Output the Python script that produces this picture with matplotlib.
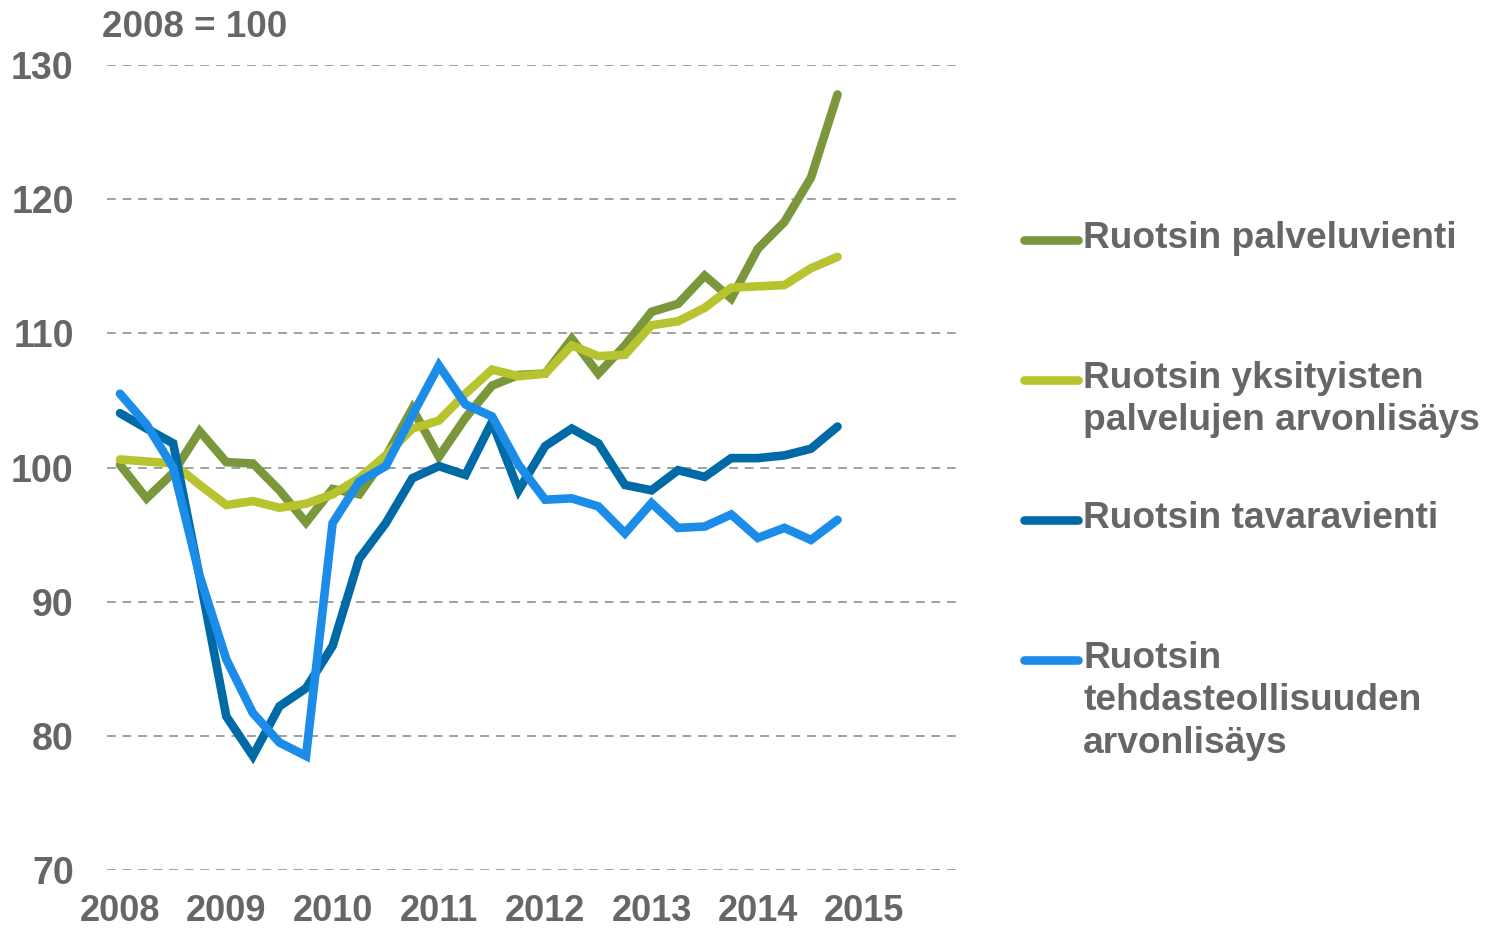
import numpy as np
import matplotlib.pyplot as plt
from matplotlib.lines import Line2D

plt.rcParams['font.family'] = ['Liberation Sans', 'DejaVu Sans']

# quarterly index, 2008 = 100
quarters = 2008 + np.arange(28) / 4

palveluvienti = [100.2, 97.7, 99.6, 102.7, 100.4, 100.3, 98.3, 95.9, 98.4, 98.0,
                 100.8, 104.4, 100.8, 103.7, 106.1, 106.9, 107.0, 109.6, 107.0, 109.1,
                 111.6, 112.2, 114.3, 112.6, 116.3, 118.3, 121.6, 127.8]
yksityiset_palvelut = [100.6, 100.45, 100.3, 98.7, 97.2, 97.5, 97.0, 97.3, 98.0, 99.2,
                       100.9, 102.9, 103.5, 105.5, 107.3, 106.8, 107.0, 109.1, 108.3, 108.4,
                       110.6, 110.9, 111.9, 113.4, 113.5, 113.6, 114.85, 115.7]
tavaravienti = [104.05, 102.9, 101.8, 91.8, 81.45, 78.5, 82.2, 83.55, 86.7, 93.2,
                95.85, 99.2, 100.1, 99.45, 103.4, 98.3, 101.6, 102.9, 101.8, 98.7,
                98.3, 99.8, 99.3, 100.7, 100.7, 100.9, 101.4, 103.05]
tehdasteollisuus = [105.5, 103.2, 100.0, 91.9, 85.7, 81.7, 79.5, 78.5, 95.85, 98.95,
                    100.1, 103.9, 107.6, 104.7, 103.8, 100.2, 97.6, 97.7, 97.1, 95.1,
                    97.35, 95.5, 95.6, 96.5, 94.75, 95.5, 94.6, 96.1]

series = [
    ("Ruotsin palveluvienti", palveluvienti, '#7b973b'),
    ("Ruotsin yksityisten\npalvelujen arvonlisäys", yksityiset_palvelut, '#b7c42f'),
    ("Ruotsin tavaravienti", tavaravienti, '#006aa7'),
    ("Ruotsin\ntehdasteollisuuden\narvonlisäys", tehdasteollisuus, '#1b8de9'),
]

years = list(range(2008, 2016))
yticks = [70, 80, 90, 100, 110, 120, 130]

W, H = 1485, 932
fig = plt.figure(figsize=(W / 100, H / 100), dpi=100)
ax = fig.add_axes([107 / W, 1 - 870 / H, (958 - 107) / W, (870 - 65) / H])

txt = '#666666'

for name, vals, col in series:
    ax.plot(quarters, vals, color=col, lw=6.2, solid_joinstyle='miter',
            solid_capstyle='round', zorder=3)

ax.set_xlim(2008 - 13 / 106.3, 2008 + 838 / 106.3)
ax.set_ylim(70, 130)
ax.set_yticks(yticks)
ax.set_xticks(years)
ax.set_xticklabels([str(y) for y in years])
for s in ax.spines.values():
    s.set_visible(False)
ax.tick_params(length=0, labelsize=27, labelcolor=txt)
ax.tick_params(axis='y', pad=24)
ax.tick_params(axis='x', labelsize=26, pad=17)
for lab in ax.get_xticklabels() + ax.get_yticklabels():
    lab.set_fontweight('bold')
ax.grid(axis='y', color='#a0a0a0', lw=1.4, linestyle=(0, (4.5, 3.5)), zorder=1)
ax.grid(axis='x', visible=False)

fig.text(102 / W, 1 - 37 / H, "2008 = 100", fontsize=26.5, fontweight='bold',
         color=txt, va='baseline', ha='left')

# legend drawn by hand to the right of the plot
leg_y = [240, 380, 520, 660]
for (name, vals, col), yy in zip(series, leg_y):
    fig.add_artist(Line2D([1024 / W, 1078 / W], [1 - yy / H, 1 - yy / H],
                          color=col, lw=6.2, solid_capstyle='round'))
    fig.text(1083 / W, 1 - (yy - 19) / H, name, fontsize=26.7, fontweight='bold',
             color=txt, ha='left', va='top', linespacing=1.27)

fig.savefig('out.png', dpi=100)
